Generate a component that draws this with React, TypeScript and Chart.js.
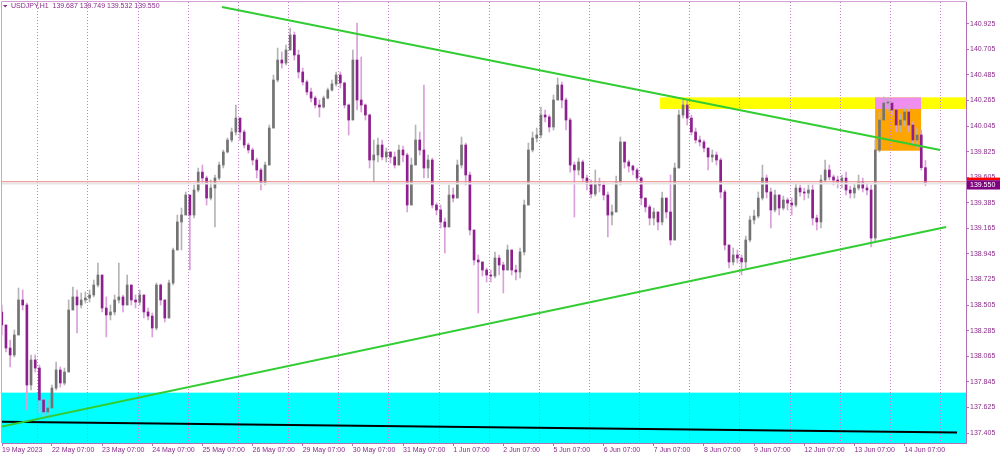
import React, { useEffect, useRef } from "react";
import { Chart, registerables } from "chart.js";
Chart.register(...registerables);

// ---------- data ----------
const SYMBOL = "USDJPY,H1";
const BAR_HOURS = 2; // each candle below spans two trading hours; x unit = trading hours since 19 May 06:00
const FIRST_OPEN = 138.446;

const highs = [
  138.506, 138.308, 138.205, 138.291, 138.652, 138.635, 138.523, 138.076, 138.076, 137.990,
  137.706, 137.689, 137.818, 138.016, 137.973, 137.964, 138.549, 138.661, 138.635, 138.609,
  138.618, 138.635, 138.721, 138.867, 138.764, 138.575, 138.506, 138.592, 138.867, 138.592,
  138.764, 138.678, 138.592, 138.635, 138.592, 138.480, 138.437, 138.695, 138.687, 138.549,
  138.721, 138.996, 139.280, 139.340, 139.478, 139.452, 139.538, 139.684, 139.710, 139.615,
  139.581, 139.624, 139.736, 139.839, 139.942, 140.028, 140.226, 140.114, 140.011, 139.899,
  139.856, 139.770, 139.684, 139.736, 140.054, 140.484, 140.716, 140.682, 140.742, 140.888,
  140.854, 140.699, 140.544, 140.441, 140.372, 140.303, 140.269, 140.303, 140.372, 140.441,
  140.510, 140.510, 140.424, 140.235, 140.699, 140.931, 140.639, 140.235, 140.149, 139.925,
  139.942, 139.925, 139.856, 139.822, 139.822, 139.882, 139.873, 139.813, 139.770, 140.054,
  139.994, 140.398, 139.796, 139.770, 139.383, 139.366, 139.254, 139.538, 139.512, 139.753,
  139.951, 139.899, 139.649, 139.151, 138.936, 138.876, 138.824, 138.807, 138.962, 138.936,
  138.876, 139.022, 138.979, 138.850, 138.996, 139.409, 139.899, 139.994, 140.028, 140.209,
  140.183, 140.140, 140.312, 140.458, 140.424, 140.286, 140.114, 139.736, 139.770, 139.753,
  139.624, 139.581, 139.667, 139.598, 139.564, 139.478, 139.366, 139.615, 139.951, 139.882,
  139.753, 139.710, 139.684, 139.607, 139.409, 139.366, 139.340, 139.306, 139.478, 139.426,
  139.624, 139.727, 140.183, 140.269, 140.269, 140.140, 140.028, 139.959, 139.925, 139.856,
  139.839, 139.822, 139.770, 139.495, 139.022, 138.996, 138.979, 138.936, 139.099, 139.271,
  139.323, 139.478, 139.710, 139.624, 139.512, 139.495, 139.426, 139.443, 139.426, 139.426,
  139.555, 139.538, 139.512, 139.538, 139.538, 139.280, 139.624, 139.753, 139.710, 139.624,
  139.615, 139.624, 139.649, 139.529, 139.547, 139.624, 139.598, 139.555, 139.538, 139.925,
  140.166, 140.295, 140.286, 140.269, 140.200, 140.149, 140.200, 140.226, 140.080, 140.028,
  140.011, 139.749,
];

const lows = [
  138.248, 138.102, 137.973, 138.059, 138.248, 138.463, 137.603, 137.775, 137.930, 137.577,
  137.534, 137.534, 137.620, 137.775, 137.801, 137.818, 137.930, 138.463, 138.265, 138.480,
  138.523, 138.532, 138.575, 138.661, 138.446, 138.231, 138.377, 138.420, 138.523, 138.446,
  138.506, 138.506, 138.480, 138.506, 138.394, 138.377, 138.231, 138.291, 138.506, 138.360,
  138.394, 138.678, 138.979, 138.979, 139.280, 138.807, 139.254, 139.478, 139.555, 139.366,
  139.409, 139.177, 139.581, 139.684, 139.813, 139.908, 139.968, 139.925, 139.856, 139.813,
  139.710, 139.598, 139.495, 139.538, 139.710, 140.028, 140.424, 140.544, 140.570, 140.699,
  140.613, 140.458, 140.398, 140.312, 140.252, 140.200, 140.123, 140.200, 140.278, 140.346,
  140.389, 140.372, 140.200, 139.968, 140.114, 140.183, 140.166, 140.097, 139.684, 139.564,
  139.736, 139.753, 139.736, 139.727, 139.684, 139.710, 139.736, 139.306, 139.366, 139.710,
  139.796, 139.598, 139.598, 139.340, 139.280, 139.168, 138.953, 139.194, 139.392, 139.426,
  139.684, 139.538, 139.108, 138.850, 138.437, 138.755, 138.704, 138.704, 138.738, 138.764,
  138.609, 138.807, 138.764, 138.721, 138.738, 138.936, 139.366, 139.822, 139.908, 139.942,
  140.080, 139.994, 140.011, 140.269, 140.200, 140.011, 139.649, 139.263, 139.624, 139.564,
  139.495, 139.426, 139.443, 139.478, 139.409, 139.091, 139.194, 139.306, 139.538, 139.684,
  139.649, 139.624, 139.564, 139.366, 139.306, 139.194, 139.194, 139.151, 139.194, 139.254,
  139.022, 139.065, 139.684, 140.114, 140.054, 139.968, 139.899, 139.873, 139.822, 139.667,
  139.736, 139.710, 139.426, 138.979, 138.824, 138.850, 138.867, 138.764, 138.824, 139.048,
  139.203, 139.254, 139.409, 139.426, 139.168, 139.306, 139.280, 139.323, 139.323, 139.280,
  139.349, 139.443, 139.409, 139.426, 139.194, 139.151, 139.168, 139.564, 139.581, 139.538,
  139.512, 139.512, 139.452, 139.426, 139.426, 139.495, 139.478, 139.452, 139.005, 139.048,
  139.822, 140.097, 140.166, 140.140, 139.994, 139.994, 140.045, 139.994, 139.882, 139.856,
  139.667, 139.532,
];

const closes = [
  138.334, 138.136, 138.076, 138.248, 138.549, 138.506, 137.818, 138.033, 137.964, 137.689,
  137.586, 137.620, 137.792, 137.947, 137.835, 137.930, 138.463, 138.575, 138.506, 138.549,
  138.566, 138.592, 138.678, 138.764, 138.480, 138.420, 138.446, 138.549, 138.575, 138.506,
  138.678, 138.549, 138.532, 138.592, 138.446, 138.411, 138.308, 138.678, 138.549, 138.394,
  138.695, 138.979, 139.220, 139.280, 139.452, 139.280, 139.495, 139.649, 139.598, 139.426,
  139.512, 139.598, 139.710, 139.822, 139.925, 139.994, 140.114, 139.994, 139.882, 139.839,
  139.753, 139.667, 139.555, 139.710, 140.028, 140.441, 140.613, 140.587, 140.699, 140.828,
  140.656, 140.510, 140.424, 140.338, 140.286, 140.226, 140.209, 140.286, 140.355, 140.407,
  140.484, 140.415, 140.226, 140.097, 140.613, 140.269, 140.226, 140.140, 139.753, 139.796,
  139.882, 139.779, 139.822, 139.779, 139.710, 139.839, 139.796, 139.366, 139.710, 139.925,
  139.839, 139.684, 139.753, 139.366, 139.323, 139.220, 139.177, 139.452, 139.426, 139.710,
  139.882, 139.624, 139.151, 138.893, 138.876, 138.807, 138.764, 138.755, 138.910, 138.850,
  138.807, 138.979, 138.807, 138.790, 138.962, 139.366, 139.839, 139.942, 139.968, 140.140,
  140.123, 140.037, 140.269, 140.398, 140.269, 140.097, 139.710, 139.667, 139.736, 139.598,
  139.547, 139.461, 139.555, 139.538, 139.452, 139.280, 139.306, 139.564, 139.908, 139.736,
  139.701, 139.667, 139.598, 139.426, 139.349, 139.254, 139.306, 139.220, 139.426, 139.306,
  139.065, 139.684, 140.140, 140.226, 140.114, 139.994, 139.925, 139.908, 139.856, 139.779,
  139.796, 139.753, 139.478, 139.022, 138.876, 138.936, 138.910, 138.876, 139.065, 139.237,
  139.271, 139.426, 139.598, 139.478, 139.323, 139.452, 139.340, 139.409, 139.383, 139.366,
  139.512, 139.478, 139.469, 139.495, 139.254, 139.220, 139.581, 139.667, 139.607, 139.581,
  139.564, 139.598, 139.495, 139.469, 139.512, 139.564, 139.512, 139.495, 139.082, 139.839,
  140.097, 140.243, 140.243, 140.183, 140.054, 140.097, 140.166, 140.054, 139.925, 139.968,
  139.687, 139.550,
];

// day separators (trading hour at 00:00 of each day)
const daySeparatorHours = [18, 42, 66, 90, 114, 138, 162, 186, 210, 234, 258, 282, 306, 330, 354, 378, 402, 426, 450];
// bottom axis labels
const xTickHours = [1.1, 25, 49, 73, 97, 121, 145, 169, 193, 217, 241, 265, 289, 313, 337, 361, 385, 409, 433];
const xTickLabels = [
  "19 May 2023", "22 May 07:00", "23 May 07:00", "24 May 07:00", "25 May 07:00", "26 May 07:00",
  "29 May 07:00", "30 May 07:00", "31 May 07:00", "1 Jun 07:00", "2 Jun 07:00", "5 Jun 07:00",
  "6 Jun 07:00", "7 Jun 07:00", "8 Jun 07:00", "9 Jun 07:00", "12 Jun 07:00", "13 Jun 07:00", "14 Jun 07:00",
];
const yTickValues = [
  137.405, 137.625, 137.845, 138.065, 138.285, 138.505, 138.725, 138.945, 139.165,
  139.385, 139.605, 139.825, 140.045, 140.265, 140.485, 140.705, 140.925,
];

// drawn objects (hour, price)
const upperTrend = [{ x: 106.4, y: 141.069 }, { x: 450, y: 139.839 }];
const lowerTrend = [{ x: 0, y: 137.457 }, { x: 452.9, y: 139.177 }];
const baseTrend = [{ x: 0, y: 137.502 }, { x: 458.1, y: 137.409 }];
const redLevel = 139.566;

const zones = [
  { x0: null, x1: null, top: 137.752, bottom: null, color: "#00ffff" },
  { x0: 316, x1: null, top: 140.292, bottom: 140.192, color: "#ffff00" },
  { x0: 418.9, x1: 440.9, top: 140.292, bottom: 140.192, color: "#f08ef0" },
  { x0: 418.9, x1: 440.9, top: 140.192, bottom: 139.833, color: "#ffa500" },
];

const X_MIN = 1.1;
const X_MAX = 462.4;
const Y_MIN = 137.319;
const Y_MAX = 141.112;

// ---------- style ----------
const FONT = "'Liberation Sans', Arial, sans-serif";
const TEXT = "#8a2b8a";
const AXIS = "#b46eb4";
const UP_BODY = "#737373";
const DN_BODY = "#8e1f8e";
const UP_WICK = "#b4b4b4";
const DN_WICK = "#d9a0d9";

const overlay = {
  id: "overlay",
  beforeDraw(chart: any) {
    const { ctx, chartArea: a, scales } = chart;
    const xs = scales.x;
    const ys = scales.y;
    ctx.save();
    ctx.beginPath();
    ctx.rect(a.left, a.top, a.right - a.left, a.bottom - a.top);
    ctx.clip();
    for (const z of zones) {
      const x0 = z.x0 == null ? a.left : xs.getPixelForValue(z.x0);
      const x1 = z.x1 == null ? a.right : xs.getPixelForValue(z.x1);
      const y0 = z.top == null ? a.top : ys.getPixelForValue(z.top);
      const y1 = z.bottom == null ? a.bottom : ys.getPixelForValue(z.bottom);
      ctx.fillStyle = z.color;
      ctx.fillRect(x0, y0, x1 - x0, y1 - y0);
    }
    ctx.strokeStyle = "#c57ec5";
    ctx.lineWidth = 1;
    ctx.setLineDash([1, 2]);
    for (const h of daySeparatorHours) {
      const px = Math.round(xs.getPixelForValue(h)) + 0.5;
      ctx.beginPath();
      ctx.moveTo(px, a.top);
      ctx.lineTo(px, a.bottom);
      ctx.stroke();
    }
    ctx.restore();
  },
  afterDraw(chart: any) {
    const { ctx, chartArea: a, scales } = chart;
    const ys = scales.y;
    ctx.save();
    // frame (top and left)
    ctx.strokeStyle = "#d2a0d2";
    ctx.lineWidth = 1;
    ctx.beginPath();
    ctx.moveTo(a.left - 0.5, a.bottom);
    ctx.lineTo(a.left - 0.5, a.top - 0.5);
    ctx.lineTo(a.right, a.top - 0.5);
    ctx.stroke();
    // title
    const n = closes.length - 1;
    const o = closes[n - 1];
    const title = `${SYMBOL}  ${o.toFixed(3)} ${highs[n].toFixed(3)} ${lows[n].toFixed(3)} ${closes[n].toFixed(3)}`;
    ctx.fillStyle = TEXT;
    ctx.beginPath();
    ctx.moveTo(3, 5);
    ctx.lineTo(7.5, 5);
    ctx.lineTo(5.25, 7.6);
    ctx.closePath();
    ctx.fill();
    ctx.font = `7px ${FONT}`;
    ctx.textBaseline = "middle";
    ctx.textAlign = "left";
    ctx.fillText(title, 11, 6.5);
    // price labels on the axis
    const yc = ys.getPixelForValue(closes[n]);
    ctx.fillStyle = "#ff0000";
    ctx.fillRect(a.right + 1, yc - 6, 1000 - a.right, 2.6);
    ctx.fillStyle = "#800080";
    ctx.fillRect(a.right + 1, yc - 3.4, 1000 - a.right, 9.3);
    ctx.fillStyle = "#ffffff";
    ctx.fillText(closes[n].toFixed(3), a.right + 4, yc + 1);
    ctx.restore();
  },
};

export default function App() {
  const ref = useRef<HTMLCanvasElement>(null);
  useEffect(() => {
    const opens = closes.map((c, i) => (i === 0 ? FIRST_OPEN : closes[i - 1]));
    const xs = closes.map((_, i) => i * BAR_HOURS + 1);
    const up = closes.map((c, i) => c >= opens[i]);
    const wickData = closes.map((c, i) => ({
      x: xs[i],
      y: [Math.min(lows[i], opens[i], c), Math.max(highs[i], opens[i], c)],
    }));
    const bodyData = closes.map((c, i) => ({ x: xs[i], y: [opens[i], c] }));

    const lineDs = (data: any, color: string, width: number) => ({
      type: "line",
      data,
      borderColor: color,
      borderWidth: width,
      pointRadius: 0,
      fill: false,
      tension: 0,
      order: 0,
    });

    const chart = new Chart(ref.current as HTMLCanvasElement, {
      type: "bar",
      data: {
        datasets: [
          lineDs(upperTrend, "#32cd32", 2),
          lineDs(lowerTrend, "#32cd32", 2),
          lineDs(baseTrend, "#000000", 2),
          lineDs([{ x: X_MIN, y: closes[closes.length - 1] }, { x: X_MAX, y: closes[closes.length - 1] }], "#e6e6e6", 2),
          lineDs([{ x: X_MIN, y: redLevel }, { x: X_MAX, y: redLevel }], "#f48080", 1),
          {
            type: "bar",
            data: bodyData,
            backgroundColor: up.map((u) => (u ? UP_BODY : DN_BODY)),
            barThickness: 2,
            minBarLength: 1,
            grouped: false,
            order: 1,
          },
          {
            type: "bar",
            data: wickData,
            backgroundColor: up.map((u) => (u ? UP_WICK : DN_WICK)),
            barThickness: 1,
            minBarLength: 1,
            grouped: false,
            order: 2,
          },
        ] as any,
      },
      options: {
        animation: false,
        responsive: false,
        devicePixelRatio: 1,
        events: [],
        layout: { padding: { left: 2, top: 2, right: 0, bottom: 0 } },
        plugins: { legend: { display: false }, tooltip: { enabled: false } },
        scales: {
          x: {
            type: "linear",
            min: X_MIN,
            max: X_MAX,
            offset: false,
            afterBuildTicks: (s: any) => {
              s.ticks = xTickHours.map((v) => ({ value: v }));
            },
            afterFit: (s: any) => {
              s.height = 13;
              s.paddingLeft = 0;
              s.paddingRight = 0;
            },
            ticks: {
              autoSkip: false,
              maxRotation: 0,
              minRotation: 0,
              align: "start",
              padding: 0,
              color: TEXT,
              font: { family: FONT, size: 7 },
              callback: (_v: any, i: number) => xTickLabels[i],
            },
            grid: { drawOnChartArea: false, drawTicks: true, tickLength: 3, color: AXIS, offset: false },
            border: { display: true, color: AXIS },
          },
          y: {
            type: "linear",
            position: "right",
            min: Y_MIN,
            max: Y_MAX,
            afterBuildTicks: (s: any) => {
              s.ticks = yTickValues.map((v) => ({ value: v }));
            },
            afterFit: (s: any) => {
              s.width = 34;
              s.paddingTop = 0;
              s.paddingBottom = 0;
            },
            ticks: {
              autoSkip: false,
              padding: 1,
              color: TEXT,
              font: { family: FONT, size: 7 },
              callback: (v: any) => Number(v).toFixed(3),
            },
            grid: { drawOnChartArea: false, drawTicks: true, tickLength: 3, color: AXIS },
            border: { display: true, color: AXIS },
          },
        },
      } as any,
      plugins: [overlay],
    } as any);
    return () => chart.destroy();
  }, []);

  return (
    <div style={{ position: "fixed", left: 0, top: 0, width: 1000, height: 456, background: "#ffffff" }}>
      <canvas ref={ref} width={1000} height={456} style={{ display: "block", width: 1000, height: 456 }} />
    </div>
  );
}
